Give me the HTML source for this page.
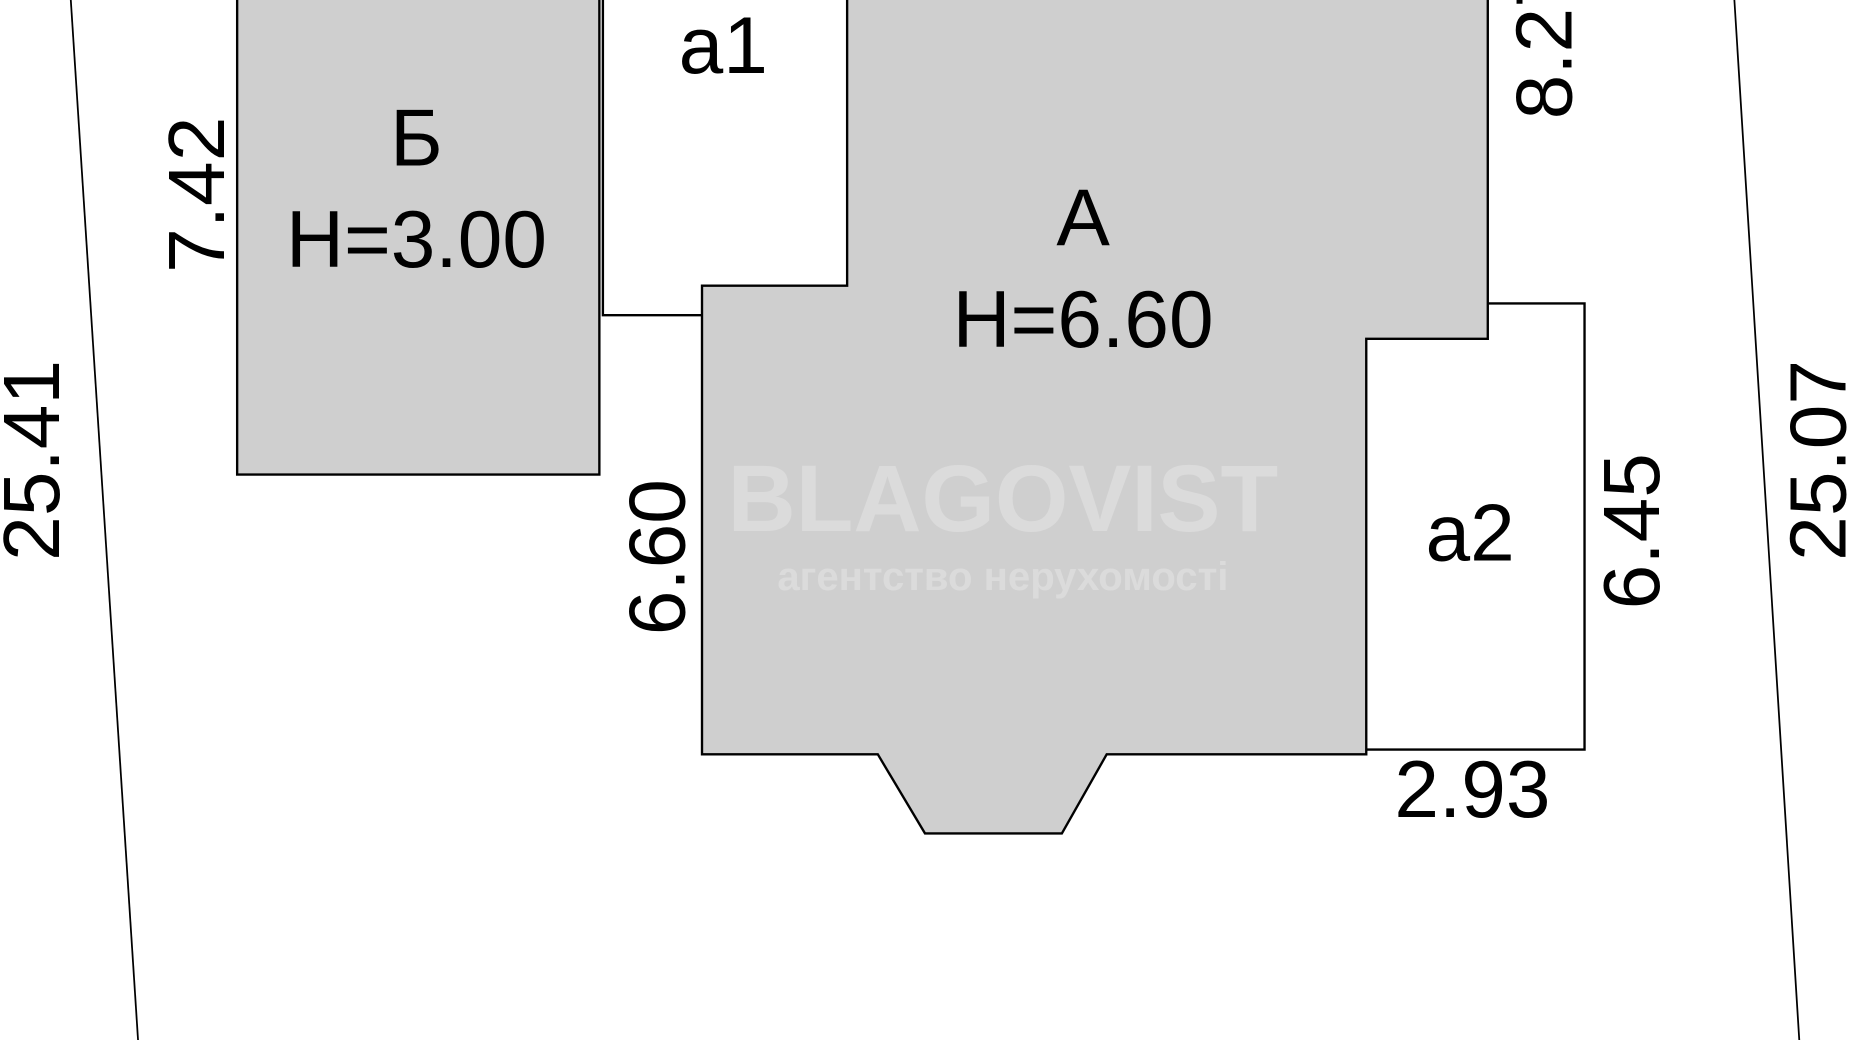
<!DOCTYPE html>
<html><head><meta charset="utf-8"><style>
html,body{margin:0;padding:0;background:#fff;width:1850px;height:1040px;overflow:hidden}
svg{display:block}
text{font-family:"Liberation Sans","DejaVu Sans",sans-serif;fill:#000}
</style></head><body>
<svg width="1850" height="1040" viewBox="0 0 1568 881" preserveAspectRatio="none">
<defs><clipPath id="c"><rect x="1270" y="0" width="65" height="120"/></clipPath></defs>
<rect width="1568" height="881" fill="#fff"/>
<line x1="60" y1="0" x2="117" y2="881" stroke="#000" stroke-width="1.5"/>
<line x1="1470" y1="0" x2="1525" y2="881" stroke="#000" stroke-width="1.5"/>
<rect x="201" y="-5" width="307" height="407" fill="#cfcfcf" stroke="#000" stroke-width="2"/>
<polyline points="511,0 511,267 595,267" fill="none" stroke="#000" stroke-width="2"/>
<polygon points="718,-5 1261,-5 1261,287 1158,287 1158,639 938,639 900,706 784,706 744,639 595,639 595,242 718,242" fill="#cfcfcf" stroke="#000" stroke-width="2"/>
<polyline points="1261,257 1343,257 1343,635 1158,635" fill="none" stroke="#000" stroke-width="2"/>
<g font-size="68" text-anchor="middle">
<text x="353" y="140">Б</text>
<text x="353" y="226">H=3.00</text>
<text x="613" y="62">a1</text>
<text x="918" y="208">A</text>
<text x="918" y="294">H=6.60</text>
<text x="1246" y="475">a2</text>
<text x="1248" y="692">2.93</text>
<text transform="translate(190,165) rotate(-90)">7.42</text>
<text transform="translate(50,390) rotate(-90)">25.41</text>
<text transform="translate(580,472) rotate(-90)">6.60</text>
<text transform="translate(1406,450) rotate(-90)">6.45</text>
<text transform="translate(1564,390) rotate(-90)">25.07</text>
<g clip-path="url(#c)"><text transform="translate(1332,35) rotate(-90)">8.27</text></g>
</g>
<g opacity="0.35">
<text x="850" y="450" font-size="80" font-weight="bold" text-anchor="middle" style="fill:#f2f2f2">BLAGOVIST</text>
<text x="850" y="500" font-size="34" font-weight="bold" text-anchor="middle" style="fill:#f2f2f2">агентство нерухомості</text>
</g>
</svg>
</body></html>
